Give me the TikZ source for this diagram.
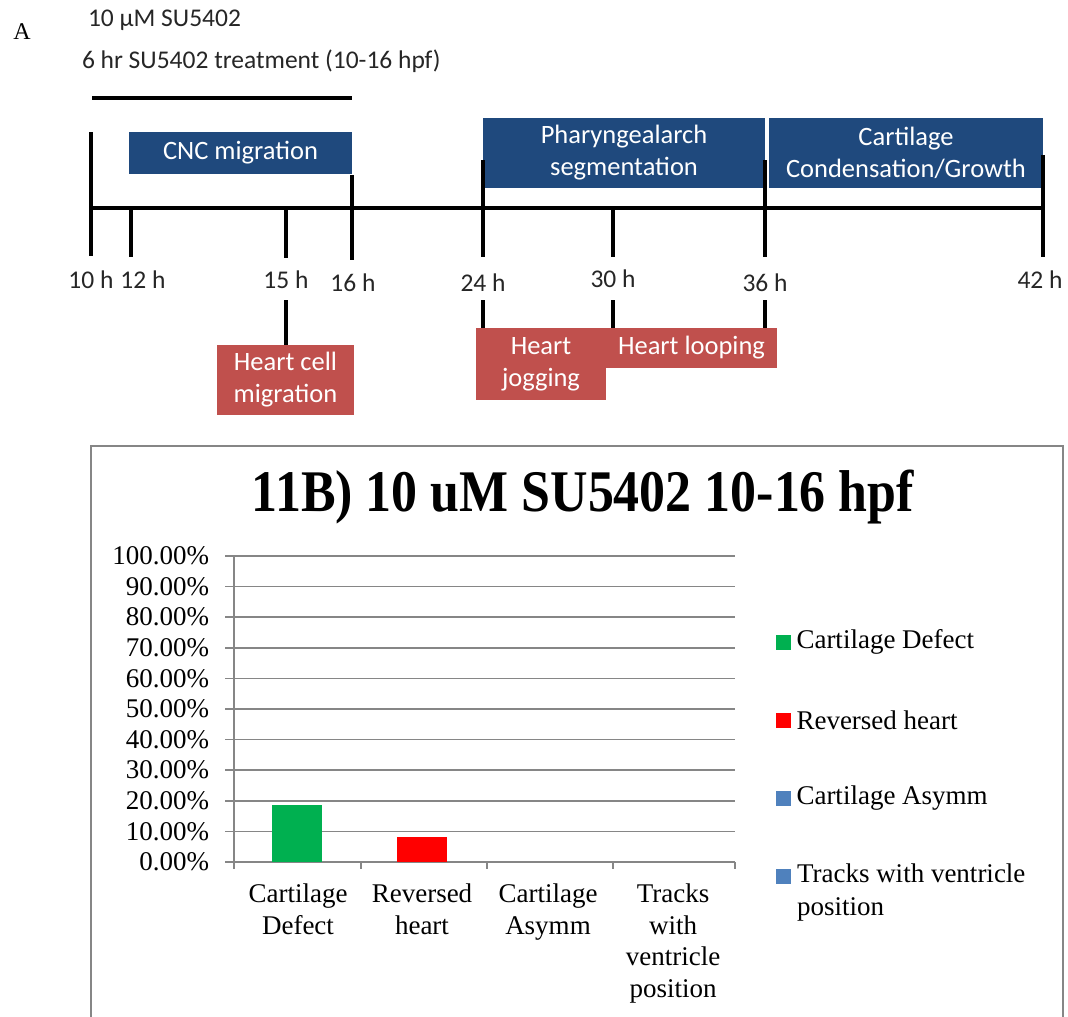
\documentclass[tikz,border=0pt]{standalone}
\usepackage{fontspec}
\setmainfont{Liberation Serif}
\newfontfamily\calib{Carlito}
\newfontfamily\titlefont[FakeStretch=0.88]{Liberation Serif}
\usetikzlibrary{positioning}

\definecolor{phaseblue}{RGB}{31,73,125}
\definecolor{eventred}{RGB}{192,80,77}
\definecolor{gridgray}{RGB}{134,134,134}
\definecolor{bargreen}{RGB}{0,176,80}
\definecolor{barred}{RGB}{255,0,0}
\definecolor{barblue}{RGB}{79,129,189}

\begin{document}
\begin{tikzpicture}[
        x=1pt, y=-1pt,
        every node/.style={inner sep=0pt, outer sep=0pt},
        tline/.style={line width=4pt, draw=black},
        phase/.style={
            fill=phaseblue, text=white, align=center, anchor=north west,
            font=\calib\fontsize{26.5}{32}\selectfont
        },
        event/.style={
            fill=eventred, text=white, align=center, anchor=north west,
            font=\calib\fontsize{26.5}{32}\selectfont
        },
        hour/.style={font=\calib\fontsize{25.5}{28}\selectfont, text=black!85},
        toptxt/.style={anchor=west, font=\calib\fontsize{25.5}{28}\selectfont, text=black!85},
        gridln/.style={draw=gridgray, line width=1.6pt},
        ylab/.style={anchor=east, font=\fontsize{27}{30}\selectfont},
        catlab/.style={anchor=north, align=center, font=\fontsize{27}{31.5}\selectfont},
        bar/.style={anchor=south, minimum width=50pt},
        legsq/.style={minimum size=15pt},
        legtxt/.style={anchor=west, align=left, font=\fontsize{27}{33}\selectfont}
        ]

    \useasboundingbox (0,0) rectangle (1068,1017);
    \clip (0,0) rectangle (1068,1017);

    % --- panel A: treatment ---
        \node[font=\fontsize{24}{28}\selectfont] (lblA) at (22,32) {A};
        \node[toptxt] (dose) at (88,20) {10 µM SU5402};
        \node[toptxt] (trt) at (82,61) {6 hr SU5402 treatment (10-16 hpf)};
        \draw[tline] (92,98) -- (352,98);

    % --- phases above the time line ---
        \node[phase, minimum width=223pt, minimum height=42pt] (cnc) at (129,132) {CNC migration};
        \node[phase, minimum width=282pt, minimum height=70pt] (pharyng) at (483,118)
            {Pharyngealarch\\segmentation};
        \node[phase, minimum width=274pt, minimum height=70pt] (cartgrow) at (769,118)
            {Cartilage\\Condensation/Growth};

    % --- time line and ticks ---
        \draw[tline] (91,208) -- (1043,208);
        \foreach \x/\a/\b in {91/132/256, 131/208/257, 286/208/258, 352/175/260,
                              483/160/257, 613/208/257, 765/160/257, 1043/155/257}
            \draw[tline] (\x,\a) -- (\x,\b);

        \node[hour] (h10) at (91,280) {10 h};
        \node[hour] (h12) at (143,280) {12 h};
        \node[hour] (h15) at (286,280) {15 h};
        \node[hour] (h16) at (353,283) {16 h};
        \node[hour] (h24) at (483,283) {24 h};
        \node[hour] (h30) at (613,279) {30 h};
        \node[hour] (h36) at (765,283) {36 h};
        \node[hour] (h42) at (1040,280) {42 h};

    % --- heart events below ---
        \node[event, minimum width=137pt, minimum height=70pt] (hcm) at (217,345)
            {Heart cell\\migration};
        \node[event, minimum width=130pt, minimum height=72pt] (hjog) at (476,328)
            {Heart\\jogging};
        \node[event, minimum width=171pt, minimum height=40pt] (hloop) at (606,328)
            {Heart looping};

        \draw[tline] (h15 |- 0,300) -- (h15 |- hcm.north);
        \draw[tline] (h24 |- 0,300) -- (h24 |- hjog.north);
        \draw[tline] (h30 |- 0,300) -- (h30 |- hjog.north);
        \draw[tline] (h36 |- 0,300) -- (h36 |- hloop.north);

    % --- panel B: chart ---
        \draw[gridln] (91,446) rectangle (1063,1040);
        \node[font=\titlefont\bfseries\fontsize{59}{64}\selectfont] (ttl) at (583,497)
            {11B) 10 uM SU5402 10-16 hpf};

        \foreach \i in {0,...,10} {
            \pgfmathtruncatemacro\pct{10*\i}
            \draw[gridln] (225,862-30.6*\i) -- (735,862-30.6*\i);
            \node[ylab] (y\i) at (209,862-30.6*\i) {\pct.00\%};
        }
        \draw[gridln] (234,556) -- (234,869);
        \foreach \x in {361,487,613,735}
            \draw[gridln] (\x,862) -- (\x,869);

        \node[bar, fill=bargreen, minimum height=57pt] (bcd) at (297,862) {};
        \node[bar, fill=barred, minimum height=25pt] (brh) at (422,862) {};

        \node[catlab] (c1) at (298,884) {Cartilage\\Defect};
        \node[catlab] (c2) at (422,884) {Reversed\\heart};
        \node[catlab] (c3) at (548,884) {Cartilage\\Asymm};
        \node[catlab] (c4) at (673,884) {Tracks\\with\\ventricle\\position};

    % --- legend ---
        \node[legsq, fill=bargreen] (sq1) at (783,642) {};
        \node[legsq, fill=barred] (sq2) at (783,720) {};
        \node[legsq, fill=barblue] (sq3) at (783,798) {};
        \node[legsq, fill=barblue] (sq4) at (783,876) {};
        \node[legtxt, right=6pt of sq1] (lg1) {Cartilage Defect};
        \node[legtxt, right=6pt of sq2] (lg2) {Reversed heart};
        \node[legtxt, right=6pt of sq3] (lg3) {Cartilage Asymm};
        \node[legtxt, anchor=north west] (lg4) at (797,864) {Tracks with ventricle\\position};

\end{tikzpicture}
\end{document}
